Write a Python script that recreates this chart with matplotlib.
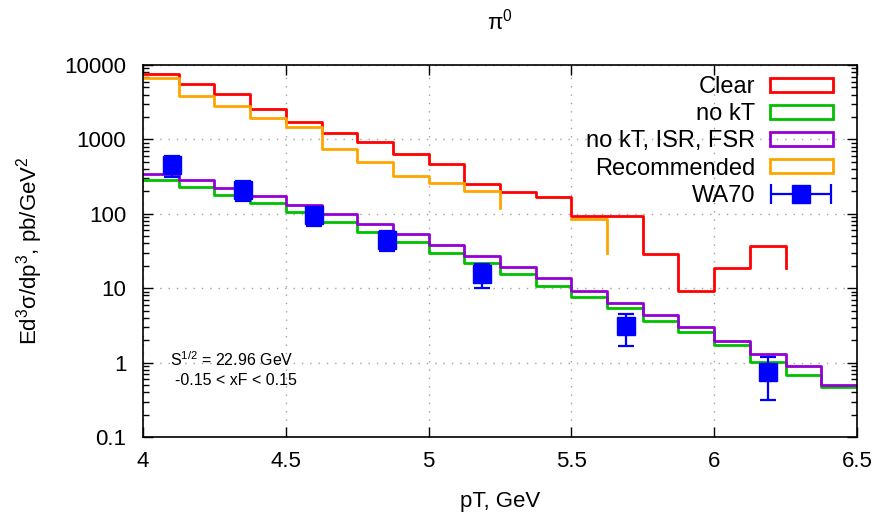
#!/usr/bin/env python3
"""pi0 invariant cross section vs pT: generator histograms against WA70 data."""

import numpy as np
import matplotlib
matplotlib.use('Agg')
import matplotlib.pyplot as plt
from matplotlib.patches import Rectangle
from matplotlib.legend_handler import HandlerErrorbar
import matplotlib.ticker as ticker

plt.rcParams['font.family'] = ['Liberation Sans', 'DejaVu Sans']
plt.rcParams['mathtext.fontset'] = 'custom'
plt.rcParams['mathtext.rm'] = 'Liberation Sans'
plt.rcParams['mathtext.it'] = 'Liberation Sans:italic'
plt.rcParams['mathtext.bf'] = 'Liberation Sans:bold'

# step points (gnuplot "steps": level y[i] runs from x[i] to x[i+1])
pt_clear = [4.0, 4.125, 4.25, 4.375, 4.5, 4.625, 4.75, 4.875, 5.0, 5.125,
            5.25, 5.375, 5.5, 5.625, 5.75, 5.875, 6.0, 6.125, 6.25]
clear = [7570, 5560, 4040, 2590, 1714, 1208, 923, 631, 467, 249,
         194, 170, 93, 93, 28.6, 9.2, 18.5, 37.3, 18.5]

pt_rec = [4.0, 4.125, 4.25, 4.375, 4.5, 4.625, 4.75, 4.875, 5.0, 5.125,
          5.25, 5.375, 5.5, 5.625]
recommended = [6690, 3830, 2786, 1958, 1468, 736, 492, 319, 262, 205,
               119, np.nan, 86, 29.4]

pt_full = [4.0, 4.125, 4.25, 4.375, 4.5, 4.625, 4.75, 4.875, 5.0, 5.125,
           5.25, 5.375, 5.5, 5.625, 5.75, 5.875, 6.0, 6.125, 6.25, 6.375, 6.5]
no_kt = [282, 227, 179, 138, 105, 78, 57.5, 41.8, 30, 21.6,
         15.7, 10.6, 7.6, 5.37, 3.66, 2.55, 1.74, 1.03, 0.675, 0.466, 0.466]
no_kt_isr_fsr = [340, 282, 224, 173, 133, 99, 72, 53.5, 38, 27,
                 19.3, 13.8, 9.2, 6.3, 4.3, 2.98, 1.93, 1.32, 0.90, 0.50, 0.50]

# WA70 data
wa70_pt = [4.10, 4.35, 4.60, 4.855, 5.186, 5.69, 6.19]
wa70_val = [453, 212, 95, 45, 15.7, 3.1, 0.75]
wa70_err = [140, 62, 26, 13.6, 5.5, 1.43, 0.44]

xticks = [4, 4.5, 5, 5.5, 6, 6.5]
yticks = [0.1, 1, 10, 100, 1000, 10000]


def gp_steps(ax, x, y, **kw):
    """Draw like gnuplot 'with steps', breaking at missing points."""
    xs, ys = [], []
    for i in range(len(x) - 1):
        if np.isnan(y[i]) or np.isnan(y[i + 1]):
            xs.append(np.nan)
            ys.append(np.nan)
            continue
        xs += [x[i], x[i + 1], x[i + 1]]
        ys += [y[i], y[i], y[i + 1]]
    ax.plot(xs, ys, **kw)


fig = plt.figure(figsize=(8.79, 5.15), dpi=100)
ax = fig.add_axes([143 / 879, 1 - 437 / 515, 714 / 879, 372 / 515])

lw = 2.0
gp_steps(ax, pt_clear, clear, color='#ff0000', lw=lw)
gp_steps(ax, pt_full, no_kt, color='#00c000', lw=lw)
gp_steps(ax, pt_full, no_kt_isr_fsr, color='#9400d3', lw=lw)
gp_steps(ax, pt_rec, recommended, color='#ffa500', lw=lw)

ax.errorbar(wa70_pt, wa70_val, yerr=wa70_err, fmt='s', color='#0000ff',
            markersize=12.5, elinewidth=1.6, capsize=6, capthick=1.6,
            zorder=5)
# legend proxy (gnuplot draws the bar horizontally in the key)
proxy = ax.errorbar([np.nan], [np.nan], xerr=[1], fmt='s', color='#0000ff',
                    markersize=12.5, elinewidth=1.6, capsize=7, capthick=1.6)

ax.set_yscale('log')
ax.set_xlim(4, 6.5)
ax.set_ylim(0.1, 10000)
ax.set_xticks(xticks)
ax.set_xticklabels([f'{t:g}' for t in xticks])
ax.set_yticks(yticks)
ax.yaxis.set_major_formatter(ticker.FuncFormatter(lambda v, p: f'{v:g}'))
ax.yaxis.set_minor_locator(ticker.LogLocator(base=10, subs=np.arange(2, 10)))
ax.yaxis.set_minor_formatter(ticker.NullFormatter())
ax.xaxis.set_minor_locator(ticker.NullLocator())

ax.tick_params(which='both', direction='in', top=True, right=True,
               labelsize=16)
ax.tick_params(which='major', length=7, width=1)
ax.tick_params(which='minor', length=4, width=1)
ax.tick_params(axis='y', pad=12)
ax.tick_params(axis='x', pad=10)
for s in ax.spines.values():
    s.set_linewidth(1.2)

ax.grid(True, which='major', color='#a0a0a0', linestyle=(0, (1, 5)),
        linewidth=1)
ax.set_axisbelow(True)

ax.set_xlabel('pT, GeV', fontsize=16, labelpad=14)
ax.set_ylabel('Ed$^3$σ/dp$^3$, pb/GeV$^2$', fontsize=16, labelpad=14)
ax.text(0.5, 1 + 43 / 372, 'π$^0$', transform=ax.transAxes,
        ha='center', va='center', fontsize=16)

ax.text(4.095, 1.08, 'S$^{1/2}$ = 22.96 GeV', fontsize=11.5,
        ha='left', va='center')
ax.text(4.112, 0.58, '-0.15 < xF < 0.15', fontsize=11.5,
        ha='left', va='center')

handles = [Rectangle((0, 0), 1, 1, facecolor='none', edgecolor=c, lw=lw)
           for c in ['#ff0000', '#00c000', '#9400d3', '#ffa500']]
handles.append(proxy)
labels = ['Clear', 'no kT', 'no kT, ISR, FSR', 'Recommended', 'WA70']
ax.legend(handles, labels, loc='upper right',
          bbox_to_anchor=((833 - 143) / 714, 1.0 - 11 / 372),
          markerfirst=False, frameon=False, fontsize=17,
          handlelength=2.67, handleheight=0.54, handletextpad=0.62,
          labelspacing=0.22, borderaxespad=0, borderpad=0,
          handler_map={type(proxy): HandlerErrorbar(xerr_size=1.27)})

fig.savefig('out.png', dpi=100)
plt.close(fig)
